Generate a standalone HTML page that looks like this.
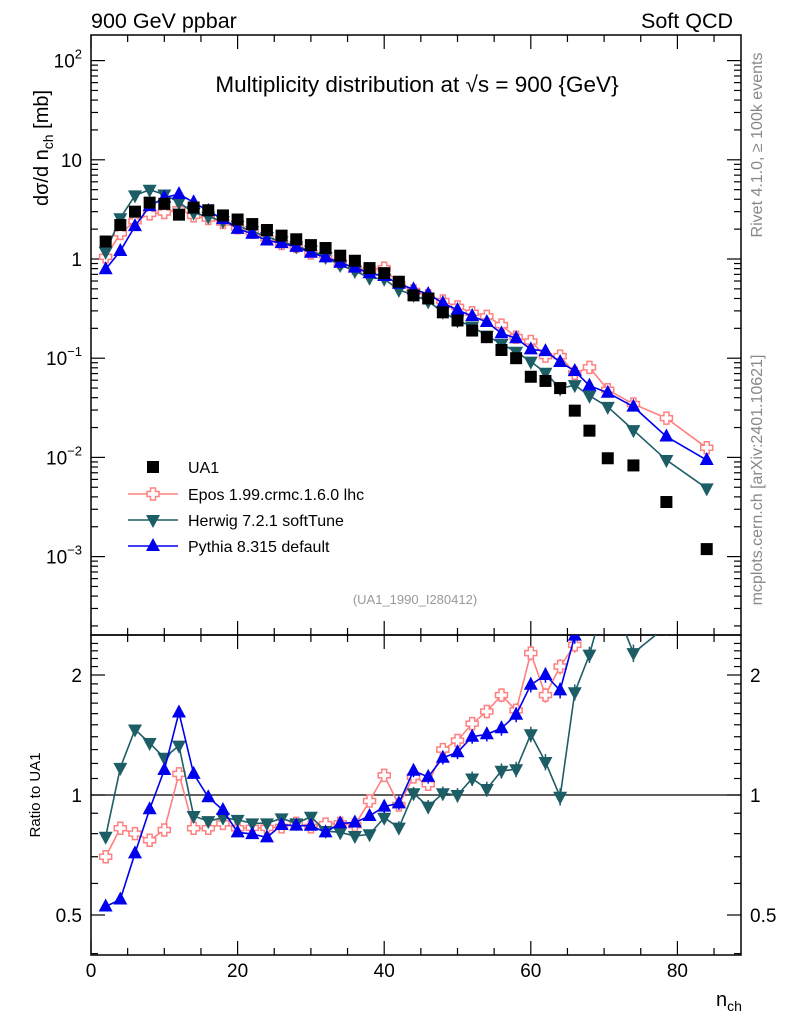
<!DOCTYPE html>
<html><head><meta charset="utf-8"><style>
body{margin:0;background:#fff}
svg{display:block;font-family:"Liberation Sans",sans-serif}
</style></head><body>
<svg id="chart" width="786" height="1024" viewBox="0 0 786 1024" xmlns="http://www.w3.org/2000/svg">
<defs>
<clipPath id="cm"><rect x="91" y="35" width="650" height="600"/></clipPath>
<clipPath id="cr"><rect x="91" y="635" width="650" height="320"/></clipPath>
</defs>
<text x="91" y="28" font-size="21.5">900 GeV ppbar</text>
<text x="733" y="28" font-size="21.5" text-anchor="end">Soft QCD</text>
<text x="417" y="92" font-size="22.5" text-anchor="middle">Multiplicity distribution at √s = 900 {GeV}</text>
<text transform="translate(48,148) rotate(-90)" font-size="20" text-anchor="middle">dσ/d n<tspan font-size="14" dy="5">ch</tspan><tspan dy="-5"> [mb]</tspan></text>
<text transform="translate(40,795) rotate(-90)" font-size="15" text-anchor="middle">Ratio to UA1</text>
<text transform="translate(762,145) rotate(-90)" font-size="16" fill="#888" text-anchor="middle">Rivet 4.1.0, ≥ 100k events</text>
<text transform="translate(762,480) rotate(-90)" font-size="16" fill="#888" text-anchor="middle">mcplots.cern.ch [arXiv:2401.10621]</text>
<text x="415" y="604" font-size="13" fill="#999" text-anchor="middle">(UA1_1990_I280412)</text>
<text x="716" y="1006" font-size="20">n<tspan font-size="14" dy="5">ch</tspan></text>
<g id="main"></g>
<g id="ratio"></g>
<g id="legend"></g>
</svg>
<script>
const nch = [2,4,6,8,10,12,14,16,18,20,22,24,26,28,30,32,34,36,38,40,42,44,46,48,50,52,54,56,58,60,62,64,66,68,70.5,74,78.5,84];
const ua1 = [1.5,2.2,3.0,3.7,3.6,2.8,3.3,3.1,2.75,2.5,2.25,1.96,1.72,1.58,1.38,1.29,1.08,0.96,0.81,0.72,0.59,0.43,0.40,0.29,0.24,0.19,0.163,0.121,0.10,0.065,0.059,0.050,0.0296,0.0186,0.0098,0.0083,0.00355,0.00119];
const eposRatio = [0.70,0.825,0.80,0.77,0.817,1.13,0.825,0.825,0.849,0.825,0.827,0.827,0.832,0.849,0.832,0.845,0.849,0.84,0.966,1.12,0.944,1.11,1.064,1.30,1.37,1.51,1.62,1.78,1.63,2.27,1.78,2.10,2.38,4.35,4.9,4.16,7.0,10.5];
const herwigRatio = [0.786,1.17,1.46,1.35,1.24,1.33,0.886,0.86,0.877,0.866,0.849,0.849,0.874,0.849,0.882,0.812,0.806,0.789,0.797,0.877,0.828,1.01,0.935,1.01,1.0,1.10,1.035,1.15,1.16,1.42,1.21,0.99,1.81,2.25,3.3,2.27,2.65,4.1];
const pythiaRatio = [0.525,0.547,0.714,0.921,1.155,1.61,1.13,0.987,0.917,0.806,0.798,0.783,0.841,0.838,0.837,0.806,0.849,0.853,0.886,0.935,0.953,1.15,1.11,1.24,1.28,1.40,1.42,1.47,1.59,1.89,2.0,1.83,2.51,2.84,4.58,3.91,4.57,7.9];
const xTicks = [0,20,40,60,80];
const yMainTicks = [2,1,0,-1,-2,-3];
const ratioTicks = [0.5,1,2];

const NS="http://www.w3.org/2000/svg";
const X = n => 91 + n*7.33;
const YM = v => 259 - 99.2*Math.log10(v);
const YR = r => 795 - 120*Math.log2(r);
function mk(tag, attrs, parent){const e=document.createElementNS(NS,tag);for(const k in attrs)e.setAttribute(k,attrs[k]);parent.appendChild(e);return e;}
const main=document.getElementById('main'), ratio=document.getElementById('ratio'), legend=document.getElementById('legend');

let f=mk('rect',{x:91,y:35,width:650,height:600,fill:'none',stroke:'#000','stroke-width':1.5},main);


f=mk('rect',{x:91,y:635,width:650,height:320,fill:'none',stroke:'#000','stroke-width':1.5},ratio);



for(let n=0;n<=88;n+=5){
  const major = n%20===0, L = major?14:7, x=X(n);
  for(const [t,b] of [[35,635],[635,955]]){
    mk('line',{x1:x,y1:t,x2:x,y2:t+L,stroke:'#000','stroke-width':1.2},main);
    mk('line',{x1:x,y1:b,x2:x,y2:b-L,stroke:'#000','stroke-width':1.2},main);
  }
}
xTicks.forEach(n=>{
  const t=mk('text',{x:X(n),y:977,'font-size':19,'text-anchor':'middle'},main);
  t.textContent=n;
  
  
});
for(let d=-4;d<=2;d++){
  for(let m=1;m<10;m++){
    const v=m*Math.pow(10,d), y=YM(v);
    if(y<35||y>635) continue;
    const L=m===1?14:7;
    mk('line',{x1:91,y1:y,x2:91+L,y2:y,stroke:'#000','stroke-width':1.2},main);
    mk('line',{x1:741,y1:y,x2:741-L,y2:y,stroke:'#000','stroke-width':1.2},main);
  }
}
yMainTicks.forEach(d=>{
  const y=YM(Math.pow(10,d));
  const t=mk('text',{x:82,y:y+7,'font-size':19,'text-anchor':'end'},main);
  if(d===1) t.textContent='10';
  else if(d===0) t.textContent='1';
  else { t.textContent='10'; const s=mk('tspan',{dy:-9,'font-size':13},t); s.textContent=String(d).replace('-','−'); }
  
  
});
for(let v=0.4;v<=2.5;v+=0.1){
  const y=YR(v); if(y<636||y>954) continue;
  const vr=Math.round(v*10)/10;
  const major=(vr===0.5||vr===1||vr===2);
  const L=major?14:7;
  mk('line',{x1:91,y1:y,x2:91+L,y2:y,stroke:'#000','stroke-width':1.2},ratio);
  mk('line',{x1:741,y1:y,x2:741-L,y2:y,stroke:'#000','stroke-width':1.2},ratio);
}
ratioTicks.forEach(v=>{
  const y=YR(v)+7;
  let t=mk('text',{x:82,y:y,'font-size':19,'text-anchor':'end'},ratio); t.textContent=v;
  
  
  t=mk('text',{x:750,y:y,'font-size':19},ratio); t.textContent=v;
  
  
});
let one=mk('line',{x1:91,y1:YR(1),x2:741,y2:YR(1),stroke:'#000','stroke-width':1.3},ratio);



function marker(kind,cx,cy,color,parent){
  let e;
  if(kind==='sq') e=mk('rect',{x:cx-6,y:cy-6,width:12,height:12,fill:'#000'},parent);
  else if(kind==='up') e=mk('polygon',{points:`${cx-7},${cy+5} ${cx+7},${cy+5} ${cx},${cy-8}`,fill:color},parent);
  else if(kind==='dn') e=mk('polygon',{points:`${cx-7},${cy-5} ${cx+7},${cy-5} ${cx},${cy+8}`,fill:color},parent);
  else { const a=2.5,b=6; e=mk('polygon',{points:`${cx-a},${cy-b} ${cx+a},${cy-b} ${cx+a},${cy-a} ${cx+b},${cy-a} ${cx+b},${cy+a} ${cx+a},${cy+a} ${cx+a},${cy+b} ${cx-a},${cy+b} ${cx-a},${cy+a} ${cx-b},${cy+a} ${cx-b},${cy-a} ${cx-a},${cy-a}`,fill:'#fff',stroke:color,'stroke-width':1.5},parent);}
  return e;
}
const series=[
 {name:'epos',ratio:eposRatio,color:'#ff8080',kind:'cross'},
 {name:'herwig',ratio:herwigRatio,color:'#1d5d66',kind:'dn'},
 {name:'pythia',ratio:pythiaRatio,color:'#0000ee',kind:'up'}
];
const gm=mk('g',{'clip-path':'url(#cm)'},main);
const gr=mk('g',{'clip-path':'url(#cr)'},ratio);
series.forEach(s=>{
  const vals=s.ratio.map((r,i)=>r*ua1[i]);
  let p=mk('polyline',{points:nch.map((n,i)=>X(n)+','+YM(vals[i])).join(' '),fill:'none',stroke:s.color,'stroke-width':1.6},gm);
  
  
  nch.forEach((n,i)=>{
    const m=marker(s.kind,X(n),YM(vals[i]),s.color,gm);
    
    
  });
  p=mk('polyline',{points:nch.map((n,i)=>X(n)+','+YR(s.ratio[i])).join(' '),fill:'none',stroke:s.color,'stroke-width':1.6},gr);
  
  
  nch.forEach((n,i)=>{
    if(n>=40){
      const e=0.025*(n/40)*s.ratio[i]+0.01;
      mk('line',{x1:X(n),y1:YR(s.ratio[i]+e),x2:X(n),y2:YR(s.ratio[i]-e),stroke:s.color,'stroke-width':1.5},gr);
    }
    const m=marker(s.kind,X(n),YR(s.ratio[i]),s.color,gr);
    
    
  });
});
nch.forEach((n,i)=>{
  const m=marker('sq',X(n),YM(ua1[i]),'#000',gm);
  
  
});
const leg=[['UA1','sq','#000'],['Epos 1.99.crmc.1.6.0 lhc','cross','#ff8080'],['Herwig 7.2.1 softTune','dn','#1d5d66'],['Pythia 8.315 default','up','#0000ee']];
const ly=[467,494,520,546];
leg.forEach((l,i)=>{
  const g=mk('g',{},legend);
  
  
  if(i>0) mk('line',{x1:128,y1:ly[i],x2:178,y2:ly[i],stroke:l[2],'stroke-width':1.6},g);
  if(i===0) mk('rect',{x:147,y:ly[i]-6,width:12,height:12,fill:'#000'},g);
  else marker(l[1],153,ly[i],l[2],g);
  const t=mk('text',{x:188,y:ly[i]+6,'font-size':16},g); t.textContent=l[0];
});
</script>
</body></html>
